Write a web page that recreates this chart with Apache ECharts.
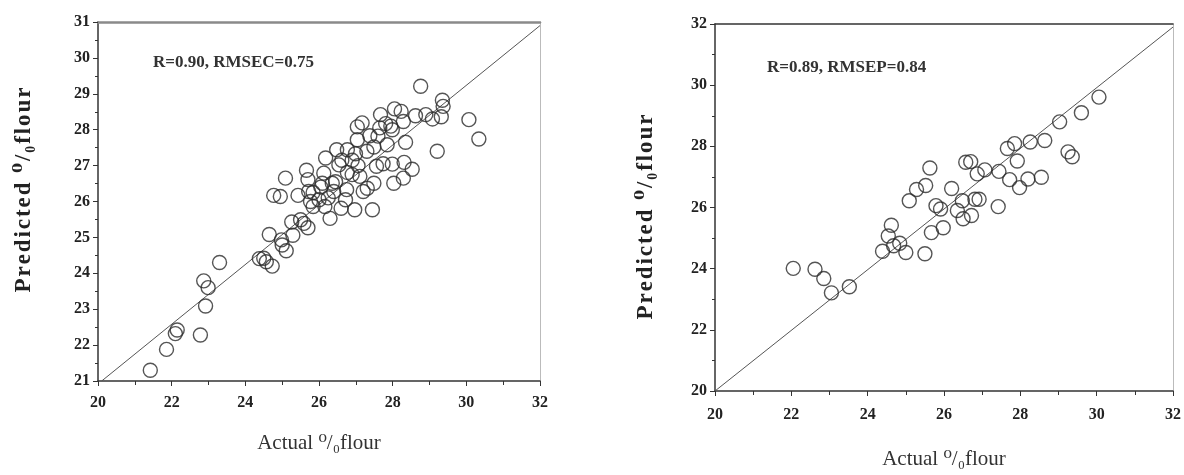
<!DOCTYPE html>
<html>
<head>
<meta charset="utf-8">
<script src="https://cdn.jsdelivr.net/npm/echarts@6/dist/echarts.min.js"></script>
<style>html,body{margin:0;padding:0;background:#fff}#c{width:1184px;height:475px}</style>
</head>
<body>
<div id="c"></div>
<script>
// Calibration set (left panel)
const calActual = [21.42,21.86,22.10,22.15,22.78,22.92,22.87,22.99,23.30,24.38,24.50,24.57,24.73,24.65,24.98,25.00,25.11,25.29,25.26,25.50,25.59,25.70,25.09,24.77,24.95,25.43,25.66,25.70,25.72,25.84,25.77,25.84,26.00,26.13,26.09,26.18,26.16,26.30,26.36,26.40,26.48,26.54,26.60,26.72,26.75,26.77,26.77,26.90,26.97,26.99,27.04,27.06,27.11,27.04,27.17,27.20,27.31,27.38,27.45,27.49,27.49,27.56,27.60,27.67,27.81,27.74,27.85,27.99,27.99,28.03,28.05,28.23,28.29,28.31,28.29,28.35,28.53,28.62,28.76,28.90,29.08,29.21,29.32,29.35,29.37,30.07,30.34,26.45,26.25,26.90,26.62,27.30,27.95,26.05,27.65];
const calPredicted = [21.30,21.88,22.32,22.42,22.28,23.09,23.79,23.60,24.30,24.41,24.42,24.32,24.20,25.08,24.93,24.79,24.63,25.06,25.43,25.49,25.39,25.27,26.65,26.17,26.14,26.17,26.87,26.61,26.28,26.25,26.00,25.86,26.05,26.79,26.51,27.21,25.86,25.53,26.51,26.28,27.44,27.02,25.81,26.05,26.33,27.44,26.81,26.75,25.77,27.33,27.72,27.00,26.70,28.08,28.19,26.28,26.37,27.83,25.77,26.51,27.52,26.98,27.82,28.42,28.17,27.05,27.58,28.00,27.04,26.51,28.58,28.51,28.23,27.09,26.65,27.65,26.90,28.39,29.21,28.42,28.30,27.40,28.36,28.82,28.65,28.28,27.74,26.55,26.10,27.15,27.15,27.40,28.10,26.40,28.05];
// Prediction set (right panel)
const preActual = [22.05,22.62,22.85,23.05,23.52,24.39,24.62,24.54,24.68,24.84,25.00,25.50,25.09,25.28,25.52,25.63,25.67,25.79,25.91,25.98,26.20,26.35,26.48,26.50,26.57,26.70,26.72,26.81,26.92,26.87,27.07,27.44,27.42,27.66,27.85,27.72,27.92,27.98,28.20,28.26,28.64,28.55,29.03,29.25,29.36,29.60,30.06];
const prePredicted = [24.01,23.98,23.68,23.21,23.41,24.57,25.42,25.07,24.75,24.83,24.53,24.49,26.22,26.59,26.72,27.29,25.18,26.06,25.95,25.34,26.62,25.90,26.22,25.63,27.48,27.50,25.74,26.27,26.27,27.10,27.23,27.18,26.03,27.93,28.09,26.91,27.52,26.65,26.93,28.14,28.19,26.99,28.80,27.82,27.66,29.10,29.61];
// Reference lines
const calLineX = [20.1, 32];
const calLineY = [21, 30.9];
const preLineX = [20, 32];
const preLineY = [20, 31.9];
const calStats = 'R=0.90, RMSEC=0.75';
const preStats = 'R=0.89, RMSEP=0.84';
const xTitle = 'Actual \u2070/\u2080flour';
const yTitle = 'Predicted \u2070/\u2080flour';

const F = '"Liberation Serif","DejaVu Serif",serif';
const pairs = (a, b) => a.map((v, i) => [v, b[i]]);
const spaced = s => s.split('').join('\u200A');

function xAxis(idx, nameGap, margin) {
  return [{
    type: 'value', gridIndex: idx, min: 20, max: 32, interval: 2,
    name: xTitle, nameLocation: 'middle', nameGap: nameGap,
    nameTextStyle: {fontFamily: F, fontSize: 21, color: '#333'},
    axisLine: {lineStyle: {color: '#333', width: 1.5}},
    axisTick: {inside: false, length: 5, lineStyle: {color: '#333'}},
    minorTick: {show: true, splitNumber: 2, length: 4, lineStyle: {color: '#333'}},
    axisLabel: {fontFamily: F, fontWeight: 'bold', fontSize: 16, color: '#222', margin: margin},
    splitLine: {show: false}
  }, {
    type: 'value', gridIndex: idx, min: 20, max: 32, position: 'top',
    axisLine: {lineStyle: {color: idx === 0 ? '#8a8a8a' : '#333', width: idx === 0 ? 2.5 : 1.5}},
    axisTick: {show: false}, axisLabel: {show: false}, splitLine: {show: false}
  }];
}
function yAxis(idx, min, max, interval, minorSplit) {
  return [{
    type: 'value', gridIndex: idx, min: min, max: max, interval: interval,
    axisLine: {lineStyle: {color: '#333', width: 1.5}},
    axisTick: {inside: false, length: 5, lineStyle: {color: '#333'}},
    minorTick: {show: true, splitNumber: minorSplit, length: 3, lineStyle: {color: '#333'}},
    axisLabel: {fontFamily: F, fontWeight: 'bold', fontSize: 16, color: '#222', margin: 8},
    splitLine: {show: false}
  }, {
    type: 'value', gridIndex: idx, min: min, max: max, position: 'right',
    axisLine: {lineStyle: {color: '#bbb', width: 1}},
    axisTick: {show: false}, axisLabel: {show: false}, splitLine: {show: false}
  }];
}

const scatterStyle = {color: 'rgba(255,255,255,0)', borderColor: '#2a2a2a', borderWidth: 1.4};

function yTitleGraphic(x, y) {
  return {type: 'text', x: x, y: y, rotation: Math.PI / 2,
    style: {text: spaced(yTitle), font: 'bold 23px ' + F, fill: '#222', align: 'center', verticalAlign: 'middle'}};
}

const option = {
  animation: false,
  backgroundColor: '#fff',
  grid: [
    {left: 98, right: 644, top: 22, bottom: 94},
    {left: 715, right: 11, top: 24, bottom: 77}
  ],
  xAxis: [...xAxis(0, 52, 14), ...xAxis(1, 58, 16)],
  yAxis: [...yAxis(0, 21, 31, 1, 2), ...yAxis(1, 20, 32, 2, 2)],
  series: [
    {type: 'line', xAxisIndex: 0, yAxisIndex: 0, data: pairs(calLineX, calLineY), symbol: 'none',
     lineStyle: {color: '#555', width: 1}, z: 1},
    {type: 'scatter', xAxisIndex: 0, yAxisIndex: 0, data: pairs(calActual, calPredicted),
     symbol: 'circle', symbolSize: 14, itemStyle: scatterStyle, z: 2},
    {type: 'line', xAxisIndex: 2, yAxisIndex: 2, data: pairs(preLineX, preLineY), symbol: 'none',
     lineStyle: {color: '#555', width: 1}, z: 1},
    {type: 'scatter', xAxisIndex: 2, yAxisIndex: 2, data: pairs(preActual, prePredicted),
     symbol: 'circle', symbolSize: 14, itemStyle: scatterStyle, z: 2}
  ],
  graphic: [
    {type: 'text', left: 153, top: 54, style: {text: calStats, font: 'bold 17px ' + F, fill: '#333'}},
    {type: 'text', left: 767, top: 59, style: {text: preStats, font: 'bold 17px ' + F, fill: '#333'}},
    yTitleGraphic(24, 190),
    yTitleGraphic(646, 217)
  ]
};
echarts.init(document.getElementById('c')).setOption(option);
</script>
</body>
</html>
